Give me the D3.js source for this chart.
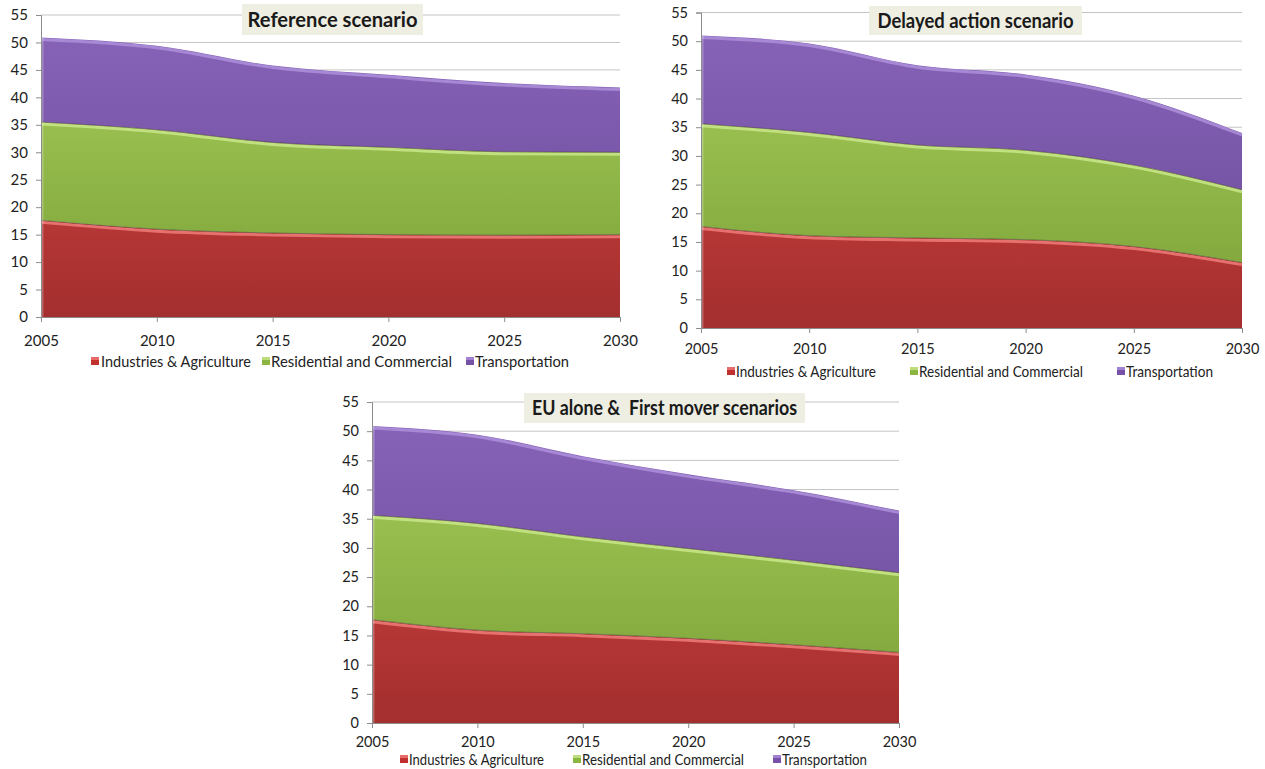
<!DOCTYPE html>
<html>
<head>
<meta charset="utf-8">
<script src="https://cdn.jsdelivr.net/npm/d3@7"></script>
<style>
  html, body { margin: 0; padding: 0; background: #ffffff; }
  svg { display: block; font-family: Lato, "Open Sans", "Liberation Sans", sans-serif; }
</style>
</head>
<body>
<svg id="chart" width="1265" height="769"></svg>
<script>
// ---------- DATA ----------
const years = [2005, 2010, 2015, 2020, 2025, 2030];
const seriesNames = ["Industries & Agriculture", "Residential and Commercial", "Transportation"];
const yTicks = [0, 5, 10, 15, 20, 25, 30, 35, 40, 45, 50, 55];

const titles = ["Reference scenario", "Delayed action scenario", "EU alone &  First mover scenarios"];

const refIndustry    = [17.6, 16.0, 15.3, 15.0, 14.9, 15.0];
const refResidential = [17.9, 18.1, 16.5, 15.9, 15.2, 15.0];
const refTransport   = [15.4, 15.3, 14.0, 13.2, 12.5, 11.8];

const delIndustry    = [17.7, 16.1, 15.7, 15.4, 14.2, 11.4];
const delResidential = [17.9, 18.0, 16.2, 15.6, 14.2, 12.7];
const delTransport   = [15.4, 15.5, 13.9, 13.2, 12.1, 9.9];

const euIndustry     = [17.7, 15.9, 15.3, 14.5, 13.4, 12.1];
const euResidential  = [17.9, 18.3, 16.6, 15.4, 14.5, 13.65];
const euTransport    = [15.3, 15.2, 13.8, 12.7, 12.0, 10.65];

// ---------- STYLE / LAYOUT ----------
const palette = [
  { top: "#da4545", bottom: "#a32f2e", hi: "#ef7b78", sq: "#c0302e" },
  { top: "#a6cd5a", bottom: "#7aa037", hi: "#c9e68a", sq: "#8cb642" },
  { top: "#8763b8", bottom: "#684896", hi: "#ad8fd9", sq: "#7552a8" }
];

const layouts = [
  { left: 41, right: 620, top: 15, bottom: 317, tickFont: 15, xLabelY: 346,
    title: { x0: 242, x1: 423, y0: 4, y1: 35, font: 21, tw: 170 },
    legend: { y: 367, font: 16, items: [[91, 101, 150], [262, 271, 181], [466, 475, 94]] } },
  { left: 701, right: 1242, top: 12.5, bottom: 328, tickFont: 14.5, xLabelY: 354,
    title: { x0: 869, x1: 1082, y0: 6, y1: 35, font: 21, tw: 196 },
    legend: { y: 377, font: 15, items: [[727, 736, 140], [910, 919, 164], [1117, 1126, 87]] } },
  { left: 372, right: 899, top: 402, bottom: 723, tickFont: 14.5, xLabelY: 747,
    title: { x0: 524, x1: 805, y0: 393, y1: 423, font: 21, tw: 265 },
    legend: { y: 765, font: 15, items: [[400, 409, 135], [573, 582, 162], [773, 782, 85]] } }
];

const datasets = [
  [refIndustry, refResidential, refTransport],
  [delIndustry, delResidential, delTransport],
  [euIndustry, euResidential, euTransport]
];

const svg = d3.select("#chart");
const defs = svg.append("defs");

function drawChart(idx) {
  const L = layouts[idx];
  const series = datasets[idx];
  const rows = years.map((yr, i) => ({ year: yr, s0: series[0][i], s1: series[1][i], s2: series[2][i] }));
  const stacked = d3.stack().keys(["s0", "s1", "s2"])(rows);

  const x = d3.scaleLinear().domain([2005, 2030]).range([L.left, L.right]);
  const y = d3.scaleLinear().domain([0, 55]).range([L.bottom, L.top]);

  const g = svg.append("g");

  // gridlines
  g.append("g").selectAll("line").data(yTicks.filter(t => t > 0)).join("line")
    .attr("x1", L.left).attr("x2", L.right)
    .attr("y1", d => y(d)).attr("y2", d => y(d))
    .attr("stroke", "#c4c4c4").attr("stroke-width", 1);

  // gradients
  palette.forEach((p, k) => {
    const grad = defs.append("linearGradient")
      .attr("id", `g${idx}_${k}`).attr("gradientUnits", "userSpaceOnUse")
      .attr("x1", 0).attr("x2", 0).attr("y1", y(52)).attr("y2", y(0));
    grad.append("stop").attr("offset", "0%").attr("stop-color", p.top);
    grad.append("stop").attr("offset", "100%").attr("stop-color", p.bottom);
  });

  const area = d3.area()
    .x((d, i) => x(years[i]))
    .y0(d => y(d[0])).y1(d => y(d[1]))
    .curve(d3.curveMonotoneX);
  const topLine = d3.line()
    .x((d, i) => x(years[i]))
    .y(d => y(d[1]))
    .curve(d3.curveMonotoneX);

  g.append("g").selectAll("path").data(stacked).join("path")
    .attr("d", area)
    .attr("fill", (d, k) => `url(#g${idx}_${k})`);

  // bevel highlight along top edges
  g.append("g").selectAll("path").data(stacked).join("path")
    .attr("d", topLine)
    .attr("fill", "none")
    .attr("stroke", (d, k) => palette[k].hi)
    .attr("stroke-width", 3)
    .attr("stroke-opacity", 0.85)
    .attr("transform", "translate(0,2)");
  g.append("g").selectAll("path").data(stacked.slice(0, 2)).join("path")
    .attr("d", topLine)
    .attr("fill", "none")
    .attr("stroke", "#3a2a2a")
    .attr("stroke-opacity", 0.45)
    .attr("stroke-width", 1);
  // left-edge highlight
  g.append("line")
    .attr("x1", L.left + 1.5).attr("x2", L.left + 1.5)
    .attr("y1", y(0)).attr("y2", y(d3.sum(series, s => s[0])))
    .attr("stroke", "#ffffff").attr("stroke-opacity", 0.25).attr("stroke-width", 2);

  // axes
  const yAxis = d3.axisLeft(y).tickValues(yTicks).tickSize(5).tickPadding(8);
  const ya = g.append("g").attr("transform", `translate(${L.left},0)`).call(yAxis);
  ya.select(".domain").attr("stroke", "#8c8c8c");
  ya.selectAll(".tick line").attr("stroke", "#8c8c8c");
  ya.selectAll("text").attr("font-size", L.tickFont).attr("fill", "#222")
    .attr("font-family", "Lato, 'Open Sans', sans-serif");

  const xAxis = d3.axisBottom(x).tickValues(years).tickFormat(d3.format("d")).tickSize(5).tickSizeOuter(0);
  const xa = g.append("g").attr("transform", `translate(0,${L.bottom})`).call(xAxis);
  xa.select(".domain").attr("stroke", "#8c8c8c");
  xa.selectAll(".tick line").attr("stroke", "#8c8c8c");
  xa.selectAll("text").attr("font-size", L.tickFont).attr("fill", "#222")
    .attr("font-family", "Lato, 'Open Sans', sans-serif")
    .attr("dy", null).attr("y", L.xLabelY - L.bottom);

  // title
  const T = L.title;
  g.append("rect").attr("x", T.x0).attr("y", T.y0)
    .attr("width", T.x1 - T.x0).attr("height", T.y1 - T.y0)
    .attr("fill", "#eeeee2");
  g.append("text")
    .attr("x", (T.x0 + T.x1) / 2).attr("y", (T.y0 + T.y1) / 2 + 7)
    .attr("text-anchor", "middle")
    .attr("font-size", T.font).attr("font-weight", "bold").attr("fill", "#1a1a1a")
    .attr("textLength", T.tw).attr("lengthAdjust", "spacingAndGlyphs")
    .style("white-space", "pre")
    .text(titles[idx]);

  // legend
  const LG = L.legend;
  LG.items.forEach((it, k) => {
    g.append("rect").attr("x", it[0]).attr("y", LG.y - 10)
      .attr("width", 8).attr("height", 8).attr("fill", palette[k].sq);
    g.append("rect").attr("x", it[0]).attr("y", LG.y - 10)
      .attr("width", 8).attr("height", 3).attr("fill", palette[k].hi).attr("opacity", 0.8);
    g.append("text").attr("x", it[1]).attr("y", LG.y)
      .attr("font-size", LG.font).attr("fill", "#222")
      .attr("textLength", it[2]).attr("lengthAdjust", "spacingAndGlyphs")
      .text(seriesNames[k]);
  });
}

[0, 1, 2].forEach(drawChart);
</script>
</body>
</html>
